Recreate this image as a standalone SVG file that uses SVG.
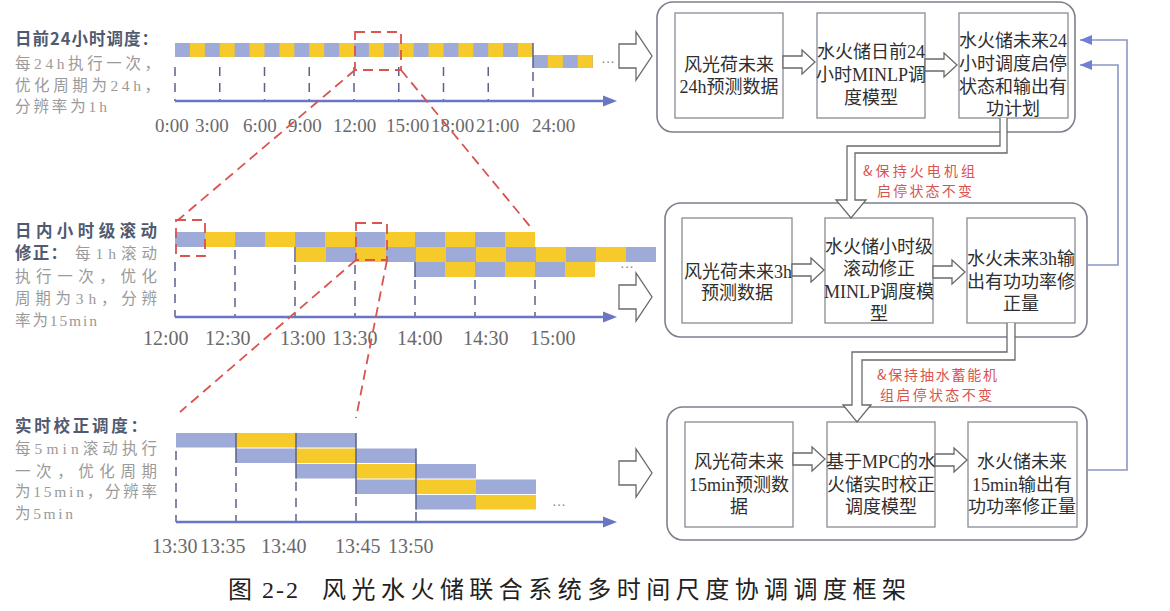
<svg xmlns="http://www.w3.org/2000/svg" width="1170" height="611" viewBox="0 0 1170 611">
<defs>
<style>
.bx{fill:#fff;stroke:#8a8c96;stroke-width:1.3}
.ct{fill:#fff;stroke:#7d808c;stroke-width:1.6}
.bt{font-family:"Liberation Serif","Noto Sans CJK SC",serif;font-size:18px;fill:#2f2f2f;text-anchor:middle}
.bts{font-family:"Liberation Serif","Noto Sans CJK SC",serif;font-size:18px;fill:#2f2f2f}
.ttl{font-family:"Noto Sans CJK SC",sans-serif;font-size:16.5px;font-weight:bold;fill:#505a70}
.dsc{font-family:"Liberation Serif","Noto Sans CJK SC",serif;font-size:15.5px;fill:#9a9a9a}
.tm{font-family:"Liberation Serif",serif;font-size:20px;fill:#6a6a6a}
.tms{font-family:"Liberation Serif",serif;font-size:19px;fill:#6a6a6a}
.rd{font-family:"Noto Sans CJK SC",sans-serif;font-size:14px;fill:#d9534f}
.red{fill:none;stroke:#d9534f;stroke-width:1.8;stroke-dasharray:10 6}
.tick{stroke:#59628a;stroke-width:1.5;stroke-dasharray:9 7}
.edge{stroke:#59628a;stroke-width:1.5}
.ax{stroke:#6a76c4;stroke-width:2.5}
.axh{fill:#6a76c4}
.B{fill:#9eaad8}
.Y{fill:#f7ca2c}
.ha{fill:#fff;stroke:#6a6a6a;stroke-width:1.3}
.fb{fill:none;stroke:#8a96c4;stroke-width:1.6}
.dots{font-family:"Liberation Sans",sans-serif;font-size:14px;fill:#888}
.cap{font-family:"Liberation Serif","Noto Sans CJK SC",serif;font-size:24px;fill:#222}
</style>
<pattern id="pTop" patternUnits="userSpaceOnUse" x="0" y="0" width="29.833" height="20"><rect class="B" width="14.917" height="20"/><rect class="Y" x="14.917" width="14.917" height="20"/></pattern>
<pattern id="pMid" patternUnits="userSpaceOnUse" x="0" y="0" width="60" height="20"><rect class="B" width="30" height="20"/><rect class="Y" x="30" width="30" height="20"/></pattern>
<path id="bigArr" d="M0,-12 H17 V-24 L33,0 L17,24 V12 H0 Z"/>
<path id="smArr" d="M0,-6 H19 V-12 L32,0 L19,12 V6 H0 Z"/>
<path id="axHead" d="M0,-5.5 L14,0 L0,5.5 Z"/>
<marker id="fa" viewBox="0 0 12 10" refX="12" refY="5" markerWidth="12" markerHeight="10" markerUnits="userSpaceOnUse" orient="auto"><path d="M0,0 L12,5 L0,10 Z" fill="#6f80d4"/></marker>
</defs>
<rect width="1170" height="611" fill="#fff"/>

<!-- Timeline 1: day-ahead -->
<g id="timeline-dayahead">
<text class="ttl" x="15" y="45" textLength="143" lengthAdjust="spacing">日前24小时调度：</text>
<text class="dsc" x="15" y="69" textLength="145" lengthAdjust="spacing">每24h执行一次，</text>
<text class="dsc" x="15" y="91" textLength="145" lengthAdjust="spacing">优化周期为24h，</text>
<text class="dsc" x="15" y="112" textLength="92" lengthAdjust="spacing">分辨率为1h</text>
<rect transform="translate(175,43)" width="358" height="14" fill="url(#pTop)"/>
<rect transform="translate(533,55)" width="60" height="13" fill="url(#pTop)"/>
<line class="edge" x1="533" y1="43" x2="533" y2="68"/>
<g class="tick">
<line x1="175" y1="67" x2="175" y2="101"/><line x1="219.75" y1="67" x2="219.75" y2="101"/>
<line x1="264.5" y1="67" x2="264.5" y2="101"/><line x1="309.25" y1="67" x2="309.25" y2="101"/>
<line x1="354" y1="67" x2="354" y2="101"/><line x1="398.75" y1="67" x2="398.75" y2="101"/>
<line x1="443.5" y1="67" x2="443.5" y2="101"/><line x1="488.25" y1="67" x2="488.25" y2="101"/>
<line x1="533" y1="72" x2="533" y2="101"/>
</g>
<line class="ax" x1="175" y1="101" x2="605" y2="101"/>
<use href="#axHead" class="axh" transform="translate(603,101)"/>
<text class="dots" x="601" y="66">···</text>
<text class="tms" x="155" y="132">0:00</text><text class="tms" x="195" y="132">3:00</text>
<text class="tms" x="243" y="132">6:00</text><text class="tms" x="288" y="132">9:00</text>
<text class="tms" x="333" y="132">12:00</text><text class="tms" x="386" y="132">15:00</text>
<text class="tms" x="431" y="132">18:00</text><text class="tms" x="476" y="132">21:00</text>
<text class="tms" x="532" y="132">24:00</text>
</g>

<!-- Timeline 2: intraday -->
<g id="timeline-intraday">
<text class="ttl" x="15" y="237" textLength="142" lengthAdjust="spacing">日内小时级滚动</text>
<text class="ttl" x="15" y="259" textLength="52" lengthAdjust="spacing">修正：</text>
<text class="dsc" x="75" y="259" textLength="82" lengthAdjust="spacing">每1h滚动</text>
<text class="dsc" x="15" y="282" textLength="142" lengthAdjust="spacing">执行一次，优化</text>
<text class="dsc" x="15" y="304" textLength="142" lengthAdjust="spacing">周期为3h，分辨</text>
<text class="dsc" x="15" y="326" textLength="82" lengthAdjust="spacing">率为15min</text>
<rect transform="translate(175,232)" width="360" height="15" fill="url(#pMid)"/>
<rect transform="translate(266,247)" x="30" width="360" height="15" fill="url(#pMid)"/>
<rect transform="translate(415,262)" width="180" height="15" fill="url(#pMid)"/>
<line class="edge" x1="295" y1="247" x2="295" y2="262"/>
<line class="edge" x1="415" y1="262" x2="415" y2="277"/>
<g class="tick">
<line x1="175" y1="262" x2="175" y2="317"/><line x1="235" y1="250" x2="235" y2="317"/>
<line x1="295" y1="265" x2="295" y2="317"/><line x1="355" y1="265" x2="355" y2="317"/>
<line x1="415" y1="280" x2="415" y2="317"/><line x1="475" y1="280" x2="475" y2="317"/>
<line x1="535" y1="280" x2="535" y2="317"/>
</g>
<line class="ax" x1="175" y1="317" x2="605" y2="317"/>
<use href="#axHead" class="axh" transform="translate(603,317)"/>
<text class="dots" x="620" y="271">···</text>
<text class="tm" x="143" y="345">12:00</text><text class="tm" x="205" y="345">12:30</text>
<text class="tm" x="280" y="345">13:00</text><text class="tm" x="332" y="345">13:30</text>
<text class="tm" x="397" y="345">14:00</text><text class="tm" x="463" y="345">14:30</text>
<text class="tm" x="530" y="345">15:00</text>
</g>

<!-- Timeline 3: real-time -->
<g id="timeline-realtime">
<text class="ttl" x="15" y="432" textLength="132" lengthAdjust="spacing">实时校正调度：</text>
<text class="dsc" x="15" y="454" textLength="142" lengthAdjust="spacing">每5min滚动执行</text>
<text class="dsc" x="15" y="477" textLength="142" lengthAdjust="spacing">一次，优化周期</text>
<text class="dsc" x="15" y="497" textLength="142" lengthAdjust="spacing">为15min，分辨率</text>
<text class="dsc" x="15" y="519" textLength="58" lengthAdjust="spacing">为5min</text>
<rect class="B" x="176" y="433" width="60" height="14.5"/><rect class="Y" x="236" y="433" width="60" height="14.5"/><rect class="B" x="296" y="433" width="60" height="14.5"/>
<rect class="B" x="236" y="448.5" width="60" height="14.5"/><rect class="Y" x="296" y="448.5" width="60" height="14.5"/><rect class="B" x="356" y="448.5" width="60" height="14.5"/>
<rect class="B" x="296" y="464" width="60" height="14.5"/><rect class="Y" x="356" y="464" width="60" height="14.5"/><rect class="B" x="416" y="464" width="60" height="14.5"/>
<rect class="B" x="356" y="479.5" width="60" height="14.5"/><rect class="Y" x="416" y="479.5" width="60" height="14.5"/><rect class="B" x="476" y="479.5" width="60" height="14.5"/>
<rect class="B" x="416" y="495" width="60" height="14.5"/><rect class="Y" x="476" y="495" width="60" height="14.5"/>
<line class="edge" x1="236" y1="433" x2="236" y2="463"/>
<line class="edge" x1="296" y1="433" x2="296" y2="478.5"/>
<line class="edge" x1="356" y1="433" x2="356" y2="494"/>
<line class="edge" x1="416" y1="448.5" x2="416" y2="509.5"/>
<g class="tick">
<line x1="176" y1="451" x2="176" y2="522"/><line x1="236" y1="467" x2="236" y2="522"/>
<line x1="296" y1="482" x2="296" y2="522"/><line x1="356" y1="497" x2="356" y2="522"/>
<line x1="416" y1="512" x2="416" y2="522"/>
</g>
<line class="ax" x1="176" y1="522" x2="605" y2="522"/>
<use href="#axHead" class="axh" transform="translate(603,522)"/>
<text class="dots" x="552" y="509">···</text>
<text class="tm" x="152" y="553">13:30</text><text class="tm" x="200" y="553">13:35</text>
<text class="tm" x="261" y="553">13:40</text><text class="tm" x="335" y="553">13:45</text>
<text class="tm" x="388" y="553">13:50</text>
</g>

<!-- Zoom indicators -->
<g id="zoom-marks">
<rect class="red" x="355" y="32" width="46" height="38"/>
<line class="red" x1="355" y1="70" x2="178" y2="220"/>
<line class="red" x1="401" y1="70" x2="533" y2="230"/>
<rect class="red" x="176" y="220" width="29" height="36"/>
<rect class="red" x="356" y="223" width="31" height="37"/>
<line class="red" x1="356" y1="260" x2="180" y2="412"/>
<line class="red" x1="387" y1="260" x2="356" y2="418"/>
</g>

<!-- Day-ahead block -->
<g id="stage-dayahead">
<rect class="ct" x="657" y="2" width="418" height="130" rx="16"/>
<g id="da-forecast"><rect class="bx" x="675" y="13" width="108" height="105"/>
<text class="bt" x="729" y="71">风光荷未来</text><text class="bt" x="729" y="93">24h预测数据</text></g>
<g id="da-model"><rect class="bx" x="817" y="13" width="108" height="105"/>
<text class="bt" x="871" y="58">水火储日前24</text><text class="bt" x="871" y="81">小时MINLP调</text><text class="bt" x="871" y="104">度模型</text></g>
<g id="da-output"><rect class="bx" x="959" y="13" width="109" height="105"/>
<text class="bt" x="1013" y="47">水火储未来24</text><text class="bt" x="1013" y="70">小时调度启停</text><text class="bt" x="1013" y="93">状态和输出有</text><text class="bt" x="1013" y="115">功计划</text></g>
</g>

<!-- Intraday block -->
<g id="stage-intraday">
<rect class="ct" x="665" y="203" width="422" height="134" rx="16"/>
<g id="id-forecast"><rect class="bx" x="682" y="218" width="110" height="105"/>
<text class="bts" x="684" y="278">风光荷未来3h</text><text class="bt" x="737" y="299">预测数据</text></g>
<g id="id-model"><rect class="bx" x="825" y="218" width="108" height="105"/>
<text class="bt" x="879" y="253">水火储小时级</text><text class="bt" x="879" y="275">滚动修正</text><text class="bt" x="879" y="298">MINLP调度模</text><text class="bt" x="879" y="320">型</text></g>
<g id="id-output"><rect class="bx" x="967" y="218" width="108" height="105"/>
<text class="bt" x="1021" y="265">水火未来3h输</text><text class="bt" x="1021" y="288">出有功功率修</text><text class="bt" x="1021" y="310">正量</text></g>
</g>

<!-- Real-time block -->
<g id="stage-realtime">
<rect class="ct" x="667" y="407" width="420" height="133" rx="16"/>
<g id="rt-forecast"><rect class="bx" x="685" y="422" width="108" height="105"/>
<text class="bt" x="739" y="468">风光荷未来</text><text class="bt" x="739" y="491">15min预测数</text><text class="bt" x="739" y="513">据</text></g>
<g id="rt-model"><rect class="bx" x="827" y="422" width="108" height="105"/>
<text class="bt" x="881" y="468">基于MPC的水</text><text class="bt" x="881" y="491">火储实时校正</text><text class="bt" x="881" y="513">调度模型</text></g>
<g id="rt-output"><rect class="bx" x="968" y="422" width="109" height="105"/>
<text class="bt" x="1022" y="468">水火储未来</text><text class="bt" x="1022" y="491">15min输出有</text><text class="bt" x="1022" y="513">功功率修正量</text></g>
</g>

<!-- Connectors -->
<g id="connectors">
<use href="#bigArr" class="ha" transform="translate(619,56)"/>
<use href="#bigArr" class="ha" transform="translate(619,297)"/>
<use href="#bigArr" class="ha" transform="translate(619,473)"/>
<use href="#smArr" class="ha" transform="translate(783,62)"/>
<use href="#smArr" class="ha" transform="translate(925,65)"/>
<use href="#smArr" class="ha" transform="translate(792,270)"/>
<use href="#smArr" class="ha" transform="translate(933,272)"/>
<use href="#smArr" class="ha" transform="translate(793,459)"/>
<use href="#smArr" class="ha" transform="translate(935,460)"/>
<path class="ha" d="M1000,118 V146 H847 V200 H836 L851,218 L866,200 H855 V153 H1007 V118"/>
<path class="ha" d="M1007,323 V352 H852 V405 H843 L857,422 L871,405 H862 V360 H1015 V323"/>
<path class="fb" d="M1087,265 H1118 V65 H1080" marker-end="url(#fa)"/>
<path class="fb" d="M1087,470 H1127 V40 H1080" marker-end="url(#fa)"/>
<text class="rd" x="863" y="176" textLength="112" lengthAdjust="spacing">&amp;保持火电机组</text>
<text class="rd" x="877" y="196" textLength="95" lengthAdjust="spacing">启停状态不变</text>
<text class="rd" x="877" y="380" textLength="120" lengthAdjust="spacing">&amp;保持抽水蓄能机</text>
<text class="rd" x="880" y="400" textLength="112" lengthAdjust="spacing">组启停状态不变</text>
</g>

<g id="caption">
<text class="cap" x="228" y="598" textLength="70" lengthAdjust="spacing">图 2-2</text>
<text class="cap" x="322" y="598" textLength="584" lengthAdjust="spacing">风光水火储联合系统多时间尺度协调调度框架</text>
</g>
</svg>
